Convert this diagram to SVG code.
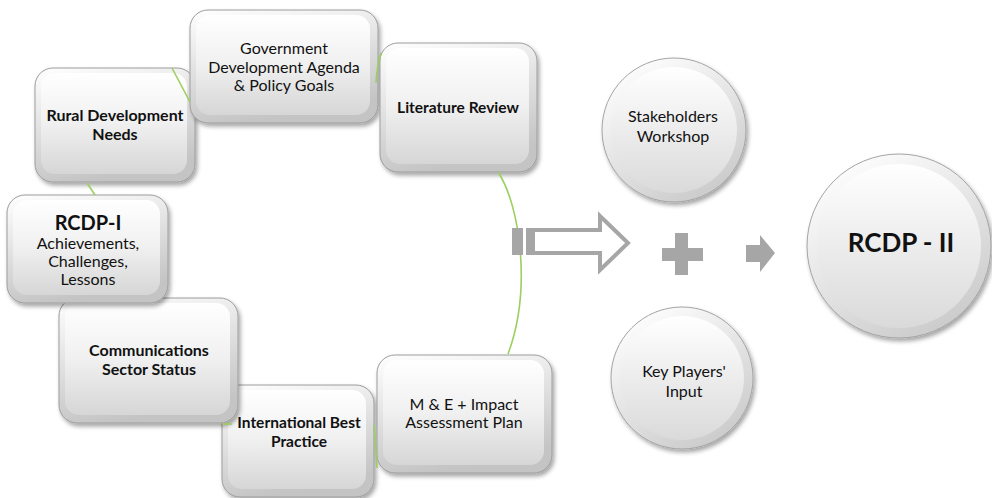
<svg xmlns="http://www.w3.org/2000/svg" width="992" height="498" viewBox="0 0 992 498">
<defs>
<linearGradient id="boxOuter" x1="0" y1="0" x2="0.3" y2="1">
<stop offset="0" stop-color="#ffffff"/><stop offset="1" stop-color="#c4c4c4"/>
</linearGradient>
<linearGradient id="boxInner" x1="0" y1="0" x2="0" y2="1">
<stop offset="0" stop-color="#ffffff"/><stop offset="0.5" stop-color="#f0f0f0"/><stop offset="1" stop-color="#d6d6d6"/>
</linearGradient>
<linearGradient id="circOuter" x1="0.2" y1="0" x2="0.8" y2="1">
<stop offset="0" stop-color="#ffffff"/><stop offset="1" stop-color="#c8c8c8"/>
</linearGradient>
<linearGradient id="circInner" x1="0" y1="0" x2="0" y2="1">
<stop offset="0" stop-color="#ffffff"/><stop offset="1" stop-color="#dadada"/>
</linearGradient>
<filter id="shadow" x="-20%" y="-20%" width="140%" height="150%">
<feDropShadow dx="2" dy="3" stdDeviation="2.2" flood-color="#000" flood-opacity="0.35"/>
</filter>
</defs>
<style>
.bo{fill:url(#boxOuter);stroke:#9c9c9c;stroke-width:1;filter:url(#shadow)}
.bi{fill:url(#boxInner);stroke:none}
.co{fill:url(#circOuter);stroke:#a4a4a4;stroke-width:1;filter:url(#shadow)}
.ci{fill:url(#circInner);stroke:none}
text{font-family:Lato,"Liberation Sans",sans-serif;fill:#111;text-anchor:middle}
.r{font-size:16px}
.b{font-size:16px;font-weight:bold}
.conn{fill:none;stroke:#9bcf5f;stroke-width:1.6}
.gray{fill:#a6a6a6}
</style>
<rect width="992" height="498" fill="#ffffff"/>

<g id="node-international">
<rect class="bo" x="222" y="385" width="152" height="112" rx="18"/>
<rect class="bi" x="228" y="390" width="138" height="99" rx="14"/>
<text class="b" x="299" y="428" style="font-size:15.5px">International Best</text>
<text class="b" x="299" y="447" style="font-size:15.5px">Practice</text>
</g>
<g id="node-communications">
<rect class="bo" x="59" y="298" width="179" height="125" rx="18"/>
<rect class="bi" x="65" y="303" width="165" height="112" rx="14"/>
<text class="b" x="149" y="356">Communications</text>
<text class="b" x="149" y="375">Sector Status</text>
</g>
<g id="node-rcdp1">
<rect class="bo" x="7" y="195" width="161" height="108" rx="18"/>
<rect class="bi" x="13" y="200" width="147" height="95" rx="14"/>
<text x="88" y="230" style="font-size:20px;font-weight:bold">RCDP-I</text>
<text class="r" x="88" y="249">Achievements,</text>
<text class="r" x="88" y="267">Challenges,</text>
<text class="r" x="88" y="285">Lessons</text>
</g>
<g id="node-rural">
<rect class="bo" x="35" y="68" width="160" height="114" rx="18"/>
<rect class="bi" x="41" y="73" width="146" height="101" rx="14"/>
<text class="b" x="115" y="121">Rural Development</text>
<text class="b" x="115" y="140">Needs</text>
</g>
<g id="node-government">
<rect class="bo" x="190" y="10" width="188" height="113" rx="18"/>
<rect class="bi" x="196" y="15" width="174" height="100" rx="14"/>
<text class="r" x="284" y="54">Government</text>
<text class="r" x="284" y="73">Development Agenda</text>
<text class="r" x="284" y="91">&amp; Policy Goals</text>
</g>
<g id="node-literature">
<rect class="bo" x="380" y="43" width="157" height="129" rx="18"/>
<rect class="bi" x="386" y="48" width="143" height="116" rx="14"/>
<text class="b" x="458" y="113" style="font-size:15.5px">Literature Review</text>
</g>
<g id="node-me">
<rect class="bo" x="377" y="355" width="175" height="118" rx="18"/>
<rect class="bi" x="383" y="360" width="161" height="105" rx="14"/>
<text class="r" x="464" y="410">M &amp; E + Impact</text>
<text class="r" x="464" y="428">Assessment Plan</text>
</g>

<g id="connectors">
<path class="conn" d="M172,68 L190,102"/>
<path class="conn" d="M381,53 Q377,66 376,83"/>
<path class="conn" d="M87,183 L95,195"/>
<path class="conn" d="M222,424 L232,424"/>
<path class="conn" d="M374,425 Q376,446 377,468"/>
<path class="conn" d="M498,172 C520,205 532,290 508,354"/>
</g>

<g id="big-arrow">
<rect class="gray" x="512" y="228" width="11" height="27"/>
<rect class="gray" x="526" y="228" width="7" height="27"/>
<polygon points="533,230 600,230 600,216 628,243 600,270 600,253 533,253" fill="#ffffff" stroke="#a6a6a6" stroke-width="4" stroke-linejoin="miter"/>
</g>

<g id="node-stakeholders">
<circle class="co" cx="674" cy="130" r="72"/>
<circle class="ci" cx="674" cy="130" r="63"/>
<text class="r" x="673" y="122">Stakeholders</text>
<text class="r" x="673" y="142">Workshop</text>
</g>

<g id="plus">
<path class="gray" d="M675,233 H688 V248 H703 V261 H688 V275 H675 V261 H662 V248 H675 Z"/>
</g>

<g id="small-arrow">
<polygon class="gray" points="746,245 760,245 760,235 775,253 760,272 760,262 746,262"/>
</g>

<g id="node-keyplayers">
<circle class="co" cx="682" cy="378" r="71"/>
<circle class="ci" cx="682" cy="378" r="62"/>
<text class="r" x="684" y="377">Key Players'</text>
<text class="r" x="684" y="397">Input</text>
</g>

<g id="node-rcdp2">
<circle class="co" cx="899" cy="246" r="92"/>
<circle class="ci" cx="899" cy="246" r="82"/>
<text x="901" y="252" style="font-size:26px;font-weight:bold">RCDP - II</text>
</g>
</svg>
